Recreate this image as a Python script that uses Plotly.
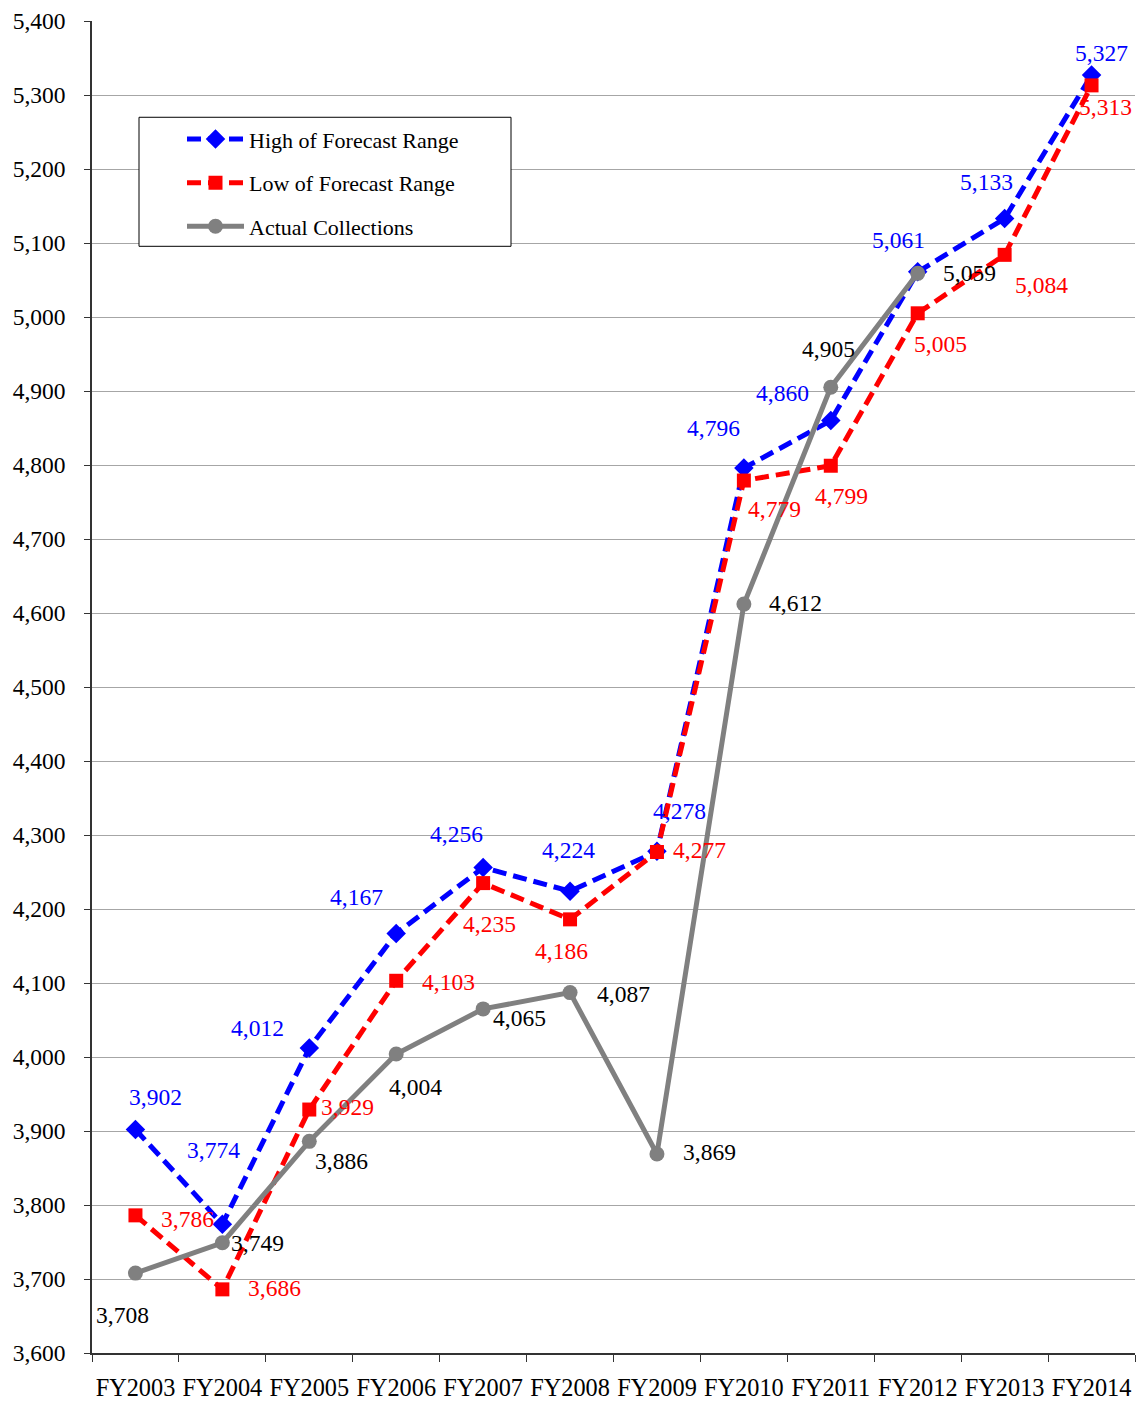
import plotly.graph_objects as go

categories = ["FY2003", "FY2004", "FY2005", "FY2006", "FY2007", "FY2008",
              "FY2009", "FY2010", "FY2011", "FY2012", "FY2013", "FY2014"]
high_forecast = [3902, 3774, 4012, 4167, 4256, 4224, 4278, 4796, 4860, 5061, 5133, 5327]
low_forecast = [3786, 3686, 3929, 4103, 4235, 4186, 4277, 4779, 4799, 5005, 5084, 5313]
actual = [3708, 3749, 3886, 4004, 4065, 4087, 3869, 4612, 4905, 5059]

# label offsets in pixels (x right, y up) - styling only
high_off = [(20, 33), (-9, 74), (-52, 20), (-40, 36), (-27, 34), (-2, 41), (23, 40),
            (-30, 40), (-48, 28), (-19, 32), (-18, 37), (10, 22)]
low_off = [(52, -4), (52, 1), (38, 3), (52, -1), (6, -41), (-9, -32), (43, 2),
           (31, -28), (11, -30), (23, -31), (37, -30), (14, -22)]
act_off = [(-13, -42), (35, 0), (32, -20), (19, -33), (36, -9), (53, -1), (53, 2),
           (52, 1), (-2, 38), (52, 0)]

FONT = "Liberation Serif, Times New Roman, serif"
BLUE = "#0000FF"
RED = "#FF0000"
GRAY = "#808080"

fig = go.Figure()
fig.add_trace(go.Scatter(
    x=categories, y=high_forecast, name="High of Forecast Range", mode="lines+markers",
    line=dict(color=BLUE, width=5, dash="14px,7px"),
    marker=dict(symbol="diamond", size=15, color=BLUE),
    legendgroup="a"))
fig.add_trace(go.Scatter(
    x=categories, y=low_forecast, name="Low of Forecast Range", mode="lines+markers",
    line=dict(color=RED, width=5, dash="14px,7px"),
    marker=dict(symbol="square", size=14, color=RED),
    legendgroup="b"))
fig.add_trace(go.Scatter(
    x=categories[:len(actual)], y=actual, name="Actual Collections", mode="lines+markers",
    line=dict(color=GRAY, width=5),
    marker=dict(symbol="circle", size=15, color=GRAY),
    legendgroup="c"))

annotations = []
for vals, offs, col in [(high_forecast, high_off, BLUE), (low_forecast, low_off, RED),
                        (actual, act_off, "#000000")]:
    for i, v in enumerate(vals):
        annotations.append(dict(
            x=categories[i], y=v, text=f"{v:,}", showarrow=False,
            xshift=offs[i][0], yshift=offs[i][1],
            xanchor="center", yanchor="middle",
            font=dict(family=FONT, size=23.5, color=col)))

# legend frame
fig.add_shape(type="rect", xref="paper", yref="paper",
              x0=(139 - 92) / 1043, x1=(511 - 92) / 1043,
              y0=(1360 - 245) / 1342, y1=(1360 - 115) / 1342,
              line=dict(color="black", width=1), fillcolor="white", layer="above")

fig.update_layout(
    width=1143, height=1409,
    margin=dict(l=92, r=8, t=18, b=49),
    plot_bgcolor="white", paper_bgcolor="white",
    font=dict(family=FONT, size=23.5, color="black"),
    showlegend=True,
    legend=dict(
        x=(182 - 92) / 1043, y=(1360 - 116) / 1342, xanchor="left", yanchor="top",
        bgcolor="rgba(0,0,0,0)", borderwidth=0,
        font=dict(family=FONT, size=22, color="black"),
        traceorder="grouped", tracegroupgap=12, itemwidth=57,
    ),
    annotations=annotations,
    xaxis=dict(
        type="category", range=[-0.5, 11.5], showgrid=False,
        showline=True, linecolor="#333333", linewidth=1.5,
        ticks="outside", ticklen=7, tickcolor="#333333", tickson="boundaries",
        ticklabelstandoff=12, ticklabeloverflow="allow", tickangle=0,
        tickfont=dict(family=FONT, size=24.3, color="black"),
    ),
    yaxis=dict(
        range=[3600, 5400], dtick=100, tickformat=",d",
        showgrid=True, gridcolor="#A6A6A6", gridwidth=1,
        showline=True, linecolor="#333333", linewidth=1.5,
        ticks="outside", ticklen=6, tickcolor="#333333",
        ticklabelstandoff=14, ticklabeloverflow="allow",
        tickfont=dict(family=FONT, size=23.5, color="black"),
        zeroline=False,
    ),
)

fig.write_html(
    "out.html",
    config={"displayModeBar": False},
    post_script=("document.documentElement.style.margin='0';"
                 "document.body.style.margin='0';"
                 "document.body.style.overflow='hidden';"),
)
